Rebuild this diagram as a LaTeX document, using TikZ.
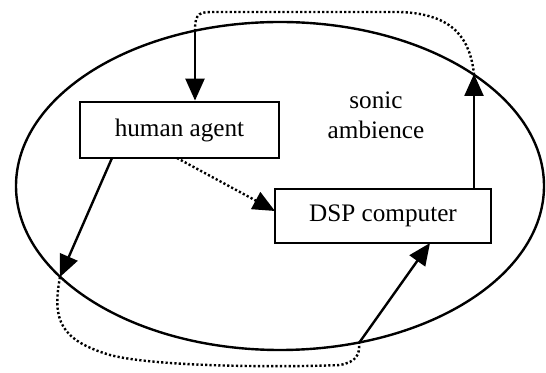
\documentclass[tikz,border=0pt]{standalone}
\usepackage{fontspec}
\setmainfont{Liberation Serif}
\usetikzlibrary{arrows.meta, shapes.geometric}

\begin{document}
\begin{tikzpicture}[x=0.5pt, y=-0.5pt,
                box/.style={rectangle, draw, line width=1.4pt, inner sep=0pt, font=\fontsize{12.6}{15}\selectfont},
                lbl/.style={align=center, font=\fontsize{12.6}{15}\selectfont},
                arr/.style={line width=1.2pt, -{Triangle[length=11pt, width=9.5pt]}},
                dots/.style={line width=1.2pt, dash pattern=on 1.1pt off 1.1pt}
            ]
                \useasboundingbox (0,0) rectangle (546,373);

                % Ambience
                \node[ellipse, draw, line width=1.2pt, inner sep=0pt, minimum width=264pt, minimum height=164pt] (amb) at (280,186) {};
                \node[lbl] (son) at (376,115) {sonic\\ambience};

                % Boxes
                \node[box, minimum width=99.5pt, minimum height=28pt] (ha) at (179.5,130) {human agent};
                \node[box, minimum width=108pt, minimum height=27pt] (dsp) at (383,216) {DSP computer};

                % Points on the ellipse and the boxes
                \coordinate (topL) at (195,31);
                \coordinate (topR) at (474,74);
                \coordinate (botL) at (60,277);
                \coordinate (botR) at (359,343);
                \coordinate (haL) at (112,158);
                \coordinate (haR) at (177,158);
                \coordinate (dspL) at (275,211);
                \coordinate (dspB) at (430,243);

                % Arrows
                \draw[arr] (topL) -- (ha.north -| topL);
                \draw[arr] (dsp.north -| topR) -- (topR);
                \draw[arr] (haL) -- (botL);
                \draw[arr] (botR) -- (dspB);
                \draw[arr, dots] (haR) -- (dspL);

                % Dotted loops outside
                \draw[dots] (topL) .. controls (195,12) and (200,12) .. (215,12) -- (400,12) .. controls (455,14) and (470,40) .. (topR);
                \draw[dots] (botL) .. controls (52,320) and (60,340) .. (110,355) .. controls (160,368) and (300,367) .. (340,365) .. controls (356,362) and (360,355) .. (botR);
            \end{tikzpicture}
\end{document}
